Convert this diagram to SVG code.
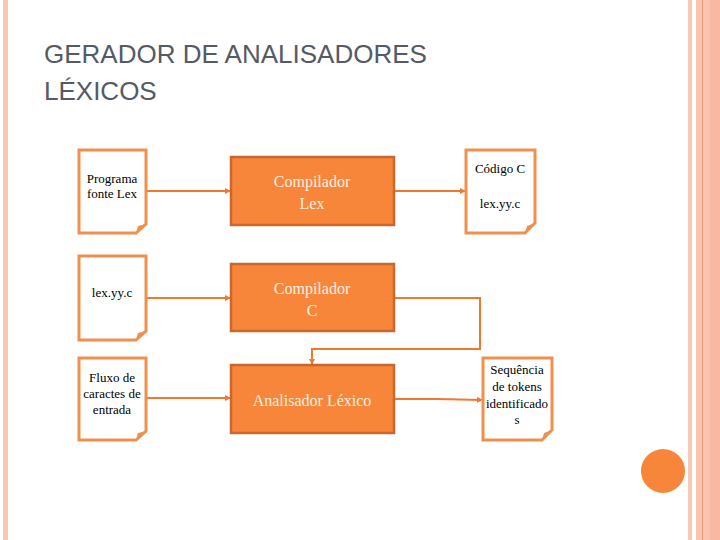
<svg xmlns="http://www.w3.org/2000/svg" width="720" height="540" viewBox="0 0 720 540">
<style>
.doc{fill:#fff;stroke:#F0904E;stroke-width:3}
.box{fill:#F7853A;stroke:#C8682E;stroke-width:2.5}
.dt{font-size:13px;fill:#000;text-anchor:middle}
.bt{font-size:16px;fill:#FDF0E0;text-anchor:middle}
.c{fill:none;stroke:#F07830;stroke-width:2}
</style>
<defs>
<marker id="a" markerWidth="6" markerHeight="6" refX="5" refY="3" orient="auto" markerUnits="userSpaceOnUse"><path d="M0,0L6,3L0,6z" fill="#F07830"/></marker>
</defs>
<rect width="720" height="540" fill="#fff"/>
<rect x="3" y="0" width="5" height="540" fill="#F9C8B4"/>
<rect x="688" y="0" width="4" height="540" fill="#F9C8B4"/>
<rect x="696" y="0" width="24" height="540" fill="#FAC4AE"/>
<rect x="702" y="0" width="1" height="540" fill="#E8A07A"/>
<rect x="710" y="0" width="10" height="540" fill="#F8B9A2"/>
<circle cx="663" cy="471" r="22" fill="#F7863A"/>
<text x="44" y="63" font-family="Liberation Sans, sans-serif" font-size="26" fill="#555a64">GERADOR DE ANALISADORES</text>
<text x="44" y="100" font-family="Liberation Sans, sans-serif" font-size="26" fill="#555a64">LÉXICOS</text>
<g id="connectors">
<path class="c" d="M146,191H230" marker-end="url(#a)"/>
<path class="c" d="M394,191H465" marker-end="url(#a)"/>
<path class="c" d="M146,298H230" marker-end="url(#a)"/>
<path class="c" d="M394,298H480V349H312V364" marker-end="url(#a)"/>
<path class="c" d="M146,398H230" marker-end="url(#a)"/>
<path class="c" d="M394,399H438L482,400" marker-end="url(#a)"/>
</g>
<g font-family="Liberation Serif, DejaVu Serif, serif">
<g id="n1"><path class="doc" d="M79,150H146V224L136,233H79Z"/><path d="M136,233L138,226L146,224" fill="#F0904E"/><text class="dt" x="112" y="183">Programa</text><text class="dt" x="112" y="198">fonte Lex</text></g>
<g id="n2"><path class="doc" d="M79,256H146V331L136,340H79Z"/><path d="M136,340L138,333L146,331" fill="#F0904E"/><text class="dt" x="112" y="297">lex.yy.c</text></g>
<g id="n3"><path class="doc" d="M79,358H146V431L136,440H79Z"/><path d="M136,440L138,433L146,431" fill="#F0904E"/><text class="dt" x="112" y="382">Fluxo de</text><text class="dt" x="112" y="398">caractes de</text><text class="dt" x="112" y="414">entrada</text></g>
<g id="b1"><rect class="box" x="231" y="157" width="163" height="68"/><text class="bt" x="312" y="187">Compilador</text><text class="bt" x="312" y="209">Lex</text></g>
<g id="b2"><rect class="box" x="231" y="264" width="163" height="67"/><text class="bt" x="312" y="294">Compilador</text><text class="bt" x="312" y="316">C</text></g>
<g id="b3"><rect class="box" x="231" y="365" width="163" height="68"/><text class="bt" x="312" y="406">Analisador Léxico</text></g>
<g id="n4"><path class="doc" d="M466,150H535V223L525,233H466Z"/><path d="M525,233L527,226L535,223" fill="#F0904E"/><text class="dt" x="500" y="173">Código C</text><text class="dt" x="500" y="208">lex.yy.c</text></g>
<g id="n5"><path class="doc" d="M483,358H552V430L542,440H483Z"/><path d="M542,440L544,433L552,430" fill="#F0904E"/><text class="dt" x="517" y="374">Sequência</text><text class="dt" x="517" y="391">de tokens</text><text class="dt" x="517" y="408">identificado</text><text class="dt" x="517" y="424">s</text></g>
</g>
</svg>
